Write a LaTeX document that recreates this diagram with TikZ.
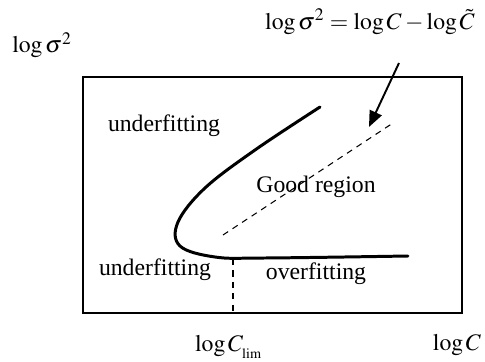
\documentclass[tikz,border=0pt]{standalone}
\usepackage{mathptmx}
\usepackage[no-math]{fontspec}
\setmainfont{Liberation Serif}
\usetikzlibrary{arrows.meta, positioning}

\begin{document}
\begin{tikzpicture}[
	x=0.02cm, y=-0.02cm,
	lbl/.style={font=\fontsize{13.5}{16}\selectfont, inner sep=1pt},
	frame/.style={draw, line width=1.1pt},
	border/.style={line width=1.7pt},
	guide/.style={dashed, line width=0.6pt, dash pattern=on 3.5pt off 3pt},
	arrow/.style={-{Triangle[length=3.2mm, width=2.6mm]}, line width=1.1pt}
]
	\useasboundingbox (0,0) rectangle (485,362);

	% Plot area
	\coordinate (bl) at (83,313);
	\coordinate (tr) at (462,77);
	\draw[frame] (bl) rectangle (tr);

	% Axis labels
	\node[lbl] (ylab) at (42,45) {$\log\sigma^2$};
	\node[lbl] (xlab) at (457,345) {$\log C$};
	\node[lbl] (xlim) at (229,347) {$\log C_{_{\mathrm{lim}}}$};

	% Boundary of the good region
	\draw[border, line cap=round] plot[smooth, tension=0.6] coordinates
		{(320,107) (255,150) (205,188) (178,222) (180,246) (215,257) (265,258) (408,256)};

	% Dashed guides
	\coordinate (diagA) at (223,235);
	\coordinate (diagB) at (393,123);
	\draw[guide] (diagA) -- (diagB);
	\coordinate (limtop) at (233,259);
	\coordinate (limbot) at (233,313);
	\draw[guide] (limtop) -- (limbot);

	% Regions
	\node[lbl] (uptop) at (164,126) {underfitting};
	\node[lbl] (good) at (316,187) {Good region};
	\node[lbl] (upbot) at (155,270) {underfitting};
	\node[lbl] (over) at (316,274) {overfitting};

	% Formula with arrow
	\node[lbl] (eq) at (370,22) {$\log\sigma^2 = \log C - \log\tilde{C}$};
	\coordinate (tip) at (369,127);
	\draw[arrow] (399,63) -- (tip);
\end{tikzpicture}
\end{document}
